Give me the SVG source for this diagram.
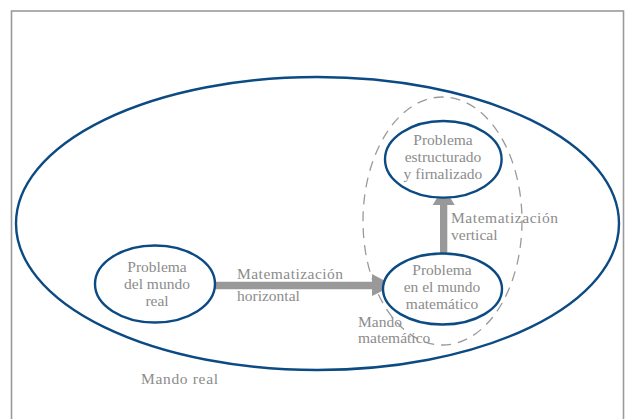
<svg xmlns="http://www.w3.org/2000/svg" width="625" height="419" viewBox="0 0 625 419">
<style>
.node{fill:#fff;stroke:#0b4a82;stroke-width:2.4}
.t{font-family:'Liberation Serif','Times New Roman',Times,serif;font-size:15.5px;fill:#8c8c8c}
.c{text-anchor:middle}
.arrow{fill:#999}
</style>
<rect x="11.5" y="11" width="612" height="430" fill="#fff" stroke="#9a9a9a" stroke-width="1.6"/>
<g id="mundo-real">
<ellipse cx="317.5" cy="223.5" rx="301.5" ry="146.5" fill="none" stroke="#0b4a82" stroke-width="2.4"/>
<text class="t" x="141" y="384" textLength="77">Mando real</text>
</g>
<g id="mundo-matematico">
<ellipse cx="442.5" cy="221" rx="79.5" ry="124" fill="none" stroke="#9a9a9a" stroke-width="1.3" stroke-dasharray="10 7"/>
</g>
<g id="connectors">
<path class="arrow" d="M214,281.7 H372 V274 L393.5,285.5 L372,296 V289.3 H214 Z"/>
<path class="arrow" d="M440,254 V205 H432.7 L443.7,186.7 L454.7,205 H447.3 V254 Z"/>
<text class="t" x="237" y="279" textLength="106">Matematización</text>
<text class="t" x="237" y="301">horizontal</text>
<text class="t" x="451" y="223" textLength="107">Matematización</text>
<text class="t" x="451" y="240">vertical</text>
</g>
<g id="problema-real">
<ellipse class="node" cx="155" cy="284" rx="60" ry="38.5"/>
<text class="t c" x="157" y="272">Problema</text>
<text class="t c" x="157" y="289">del mundo</text>
<text class="t c" x="157" y="306">real</text>
</g>
<g id="problema-estructurado">
<ellipse class="node" cx="443.3" cy="159.3" rx="58.3" ry="38.3"/>
<text class="t c" x="443" y="145">Problema</text>
<text class="t c" x="443" y="162">estructurado</text>
<text class="t c" x="443" y="178.5">y firnalizado</text>
</g>
<g id="problema-matematico">
<ellipse class="node" cx="442.5" cy="289" rx="59.5" ry="35.5"/>
<text class="t c" x="442" y="275">Problema</text>
<text class="t c" x="442" y="292">en el mundo</text>
<text class="t c" x="442" y="308.5">matemático</text>
</g>
<g id="label-mando-matematico">
<text class="t" x="358" y="327">Mando</text>
<text class="t" x="358" y="343">matemático</text>
</g>
</svg>
